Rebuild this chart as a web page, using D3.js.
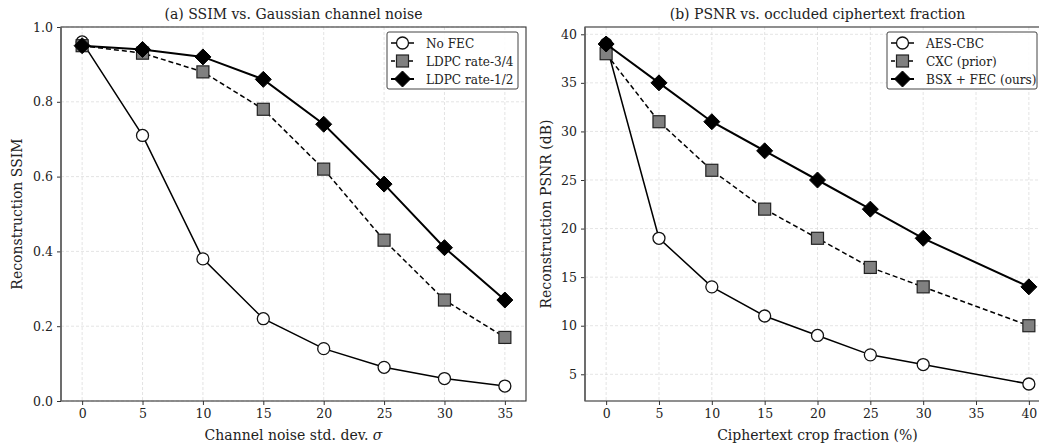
<!DOCTYPE html>
<html><head><meta charset="utf-8">
<script src="https://cdn.jsdelivr.net/npm/d3@7"></script>
<style>body{margin:0;background:#fff}svg{display:block}text{font-family:"DejaVu Serif",serif;fill:#222}</style>
</head><body><svg id="c" width="1039" height="444"></svg>
<script>
const sigma = [0,5,10,15,20,25,30,35];
const noFEC = [0.96,0.71,0.38,0.22,0.14,0.09,0.06,0.04];
const ldpc34 = [0.95,0.93,0.88,0.78,0.62,0.43,0.27,0.17];
const ldpc12 = [0.95,0.94,0.92,0.86,0.74,0.58,0.41,0.27];
const cropFrac = [0,5,10,15,20,25,30,40];
const aesCBC = [39,19,14,11,9,7,6,4];
const cxcPrior = [38,31,26,22,19,16,14,10];
const bsxFEC = [39,35,31,28,25,22,19,14];
const leftXTicks = [0,5,10,15,20,25,30,35];
const leftYTicks = [0,0.2,0.4,0.6,0.8,1.0];
const rightXTicks = [0,5,10,15,20,25,30,35,40];
const rightYTicks = [5,10,15,20,25,30,35,40];

const svg = d3.select("#c");
const styles = [
  {dash:null, w:1.5, marker:"circle"},
  {dash:"5,3", w:1.5, marker:"square"},
  {dash:null, w:2, marker:"diamond"}
];
function marker(g, type, x, y){
  if(type==="circle") g.append("circle").attr("cx",x).attr("cy",y).attr("r",6).attr("fill","#fff").attr("stroke","#111").attr("stroke-width",1.3);
  else if(type==="square") g.append("rect").attr("x",x-6).attr("y",y-6).attr("width",12).attr("height",12).attr("fill","#808080").attr("stroke","#222").attr("stroke-width",1.2);
  else g.append("path").attr("d",`M${x},${y-8}L${x+8},${y}L${x},${y+8}L${x-8},${y}Z`).attr("fill","#000").attr("stroke","#000").attr("stroke-width",1);
}
function panel(o){
  const g = svg.append("g");
  const x = d3.scaleLinear().domain(o.xd).range([o.l,o.r]);
  const y = d3.scaleLinear().domain(o.yd).range([o.b,o.t]);
  g.append("g").selectAll("line").data(o.xt).join("line").attr("x1",d=>x(d)).attr("x2",d=>x(d)).attr("y1",o.t).attr("y2",o.b).attr("stroke","#d8d8d8").attr("stroke-width",0.7).attr("stroke-dasharray","3,2");
  g.append("g").selectAll("line").data(o.yt).join("line").attr("y1",d=>y(d)).attr("y2",d=>y(d)).attr("x1",o.l).attr("x2",o.r).attr("stroke","#d8d8d8").attr("stroke-width",0.7).attr("stroke-dasharray","3,2");
  const ax = g.append("g").attr("transform",`translate(0,${o.b})`).call(d3.axisBottom(x).tickValues(o.xt).tickFormat(d3.format("d")).tickSize(4).tickPadding(4));
  const ay = g.append("g").attr("transform",`translate(${o.l},0)`).call(d3.axisLeft(y).tickValues(o.yt).tickFormat(o.yf).tickSize(4).tickPadding(4));
  [ax,ay].forEach(a=>{a.select(".domain").remove();a.selectAll("line").attr("stroke","#333");a.selectAll("text").attr("font-size",12.5).attr("font-family","DejaVu Serif").attr("fill","#222");});
  g.append("rect").attr("x",o.l).attr("y",o.t).attr("width",o.r-o.l).attr("height",o.b-o.t).attr("fill","none").attr("stroke","#333").attr("stroke-width",1.1);
  g.append("line").attr("x1",o.l).attr("x2",o.l).attr("y1",o.t).attr("y2",o.b).attr("stroke","#666").attr("stroke-width",1.6);
  o.series.forEach((s,i)=>{
    const st = styles[i];
    const pts = o.xs.map((xv,j)=>[x(xv),y(s.v[j])]);
    g.append("path").attr("d",d3.line()(pts)).attr("fill","none").attr("stroke","#000").attr("stroke-width",st.w).attr("stroke-dasharray",st.dash);
    pts.forEach(p=>marker(g,st.marker,p[0],p[1]));
  });
  g.append("text").attr("x",(o.l+o.r)/2).attr("y",19).attr("text-anchor","middle").attr("font-size",14).text(o.title);
  const xl = g.append("text").attr("x",(o.l+o.r)/2).attr("y",440).attr("text-anchor","middle").attr("font-size",14);
  xl.append("tspan").text(o.xlabel);
  if(o.xlabelMath) xl.append("tspan").attr("font-style","italic").text(o.xlabelMath);
  g.append("text").attr("transform",`translate(${o.ylx},${(o.t+o.b)/2}) rotate(-90)`).attr("text-anchor","middle").attr("font-size",14).text(o.ylabel);
  const L = g.append("g");
  L.append("rect").attr("x",o.lg.x).attr("y",32).attr("width",o.lg.w).attr("height",57).attr("rx",2).attr("fill","#fff").attr("fill-opacity",0.85).attr("stroke","#444").attr("stroke-width",1);
  o.series.forEach((s,i)=>{
    const st = styles[i]; const yy = 43+i*18; const hx = o.lg.x+4;
    L.append("line").attr("x1",hx).attr("x2",hx+23).attr("y1",yy).attr("y2",yy).attr("stroke","#000").attr("stroke-width",st.w).attr("stroke-dasharray",st.dash?"4,2":null);
    marker(L,st.marker,hx+11.5,yy);
    L.append("text").attr("x",hx+35).attr("y",yy+4.5).attr("font-size",12.1).text(s.name);
  });
}
panel({l:61,r:526,t:27,b:401,xd:[-1.75,36.75],yd:[0,1],xs:sigma,xt:leftXTicks,yt:leftYTicks,yf:d3.format(".1f"),
  title:"(a) SSIM vs. Gaussian channel noise",xlabel:"Channel noise std. dev. ",xlabelMath:"σ",ylabel:"Reconstruction SSIM",ylx:22,
  lg:{x:387,w:131},
  series:[{name:"No FEC",v:noFEC},{name:"LDPC rate-3/4",v:ldpc34},{name:"LDPC rate-1/2",v:ldpc12}]});
panel({l:585,r:1050,t:27,b:401,xd:[-2,42],yd:[2.25,40.75],xs:cropFrac,xt:rightXTicks,yt:rightYTicks,yf:d3.format("d"),
  title:"(b) PSNR vs. occluded ciphertext fraction",xlabel:"Ciphertext crop fraction (%)",ylabel:"Reconstruction PSNR (dB)",ylx:551,
  lg:{x:887,w:150},
  series:[{name:"AES-CBC",v:aesCBC},{name:"CXC (prior)",v:cxcPrior},{name:"BSX + FEC (ours)",v:bsxFEC}]});
</script></body></html>
